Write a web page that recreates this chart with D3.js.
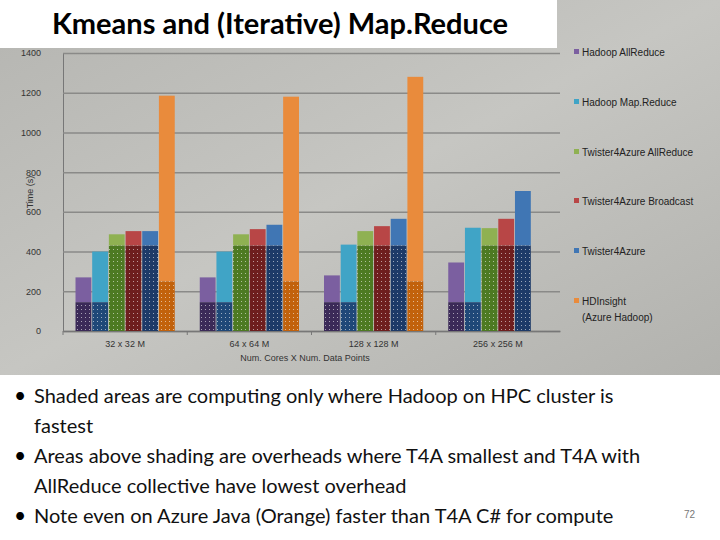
<!DOCTYPE html>
<html>
<head>
<meta charset="utf-8">
<script src="https://cdn.jsdelivr.net/npm/d3@7"></script>
<style>
body { margin: 0; }
svg { font-family: "Liberation Sans", "DejaVu Sans", sans-serif; }
</style>
</head>
<body>
<svg id="chart" width="720" height="540"></svg>
<script>
var categories = ["32 x 32 M", "64 x 64 M", "128 x 128 M", "256 x 256 M"];
var seriesNames = ["Hadoop AllReduce", "Hadoop Map.Reduce", "Twister4Azure AllReduce",
  "Twister4Azure Broadcast", "Twister4Azure", "HDInsight (Azure Hadoop)"];
// total time per series, per category (null = no bar)
var hadoopAllReduce = [270, 270, 280, 345];
var hadoopMapReduce = [400, 400, 435, 520];
var t4aAllReduce = [487, 487, 503, 518];
var t4aBroadcast = [503, 513, 528, 565];
var t4a = [503, 535, 565, 705];
var hdinsight = [1185, 1180, 1280, null];
// computing-only (shaded) part of each series
var computeTime = [145, 145, 430, 430, 430, 250];
var yTicks = [0, 200, 400, 600, 800, 1000, 1200, 1400];

var values = [hadoopAllReduce, hadoopMapReduce, t4aAllReduce, t4aBroadcast, t4a, hdinsight];
var topColors = ["#7b5fa0", "#40a4c6", "#8fb152", "#b84646", "#4076b4", "#e98b3c"];
var lowColors = ["#3b2a58", "#1f4878", "#4d7a22", "#6e1e1e", "#1d3a68", "#c2620c"];

var svg = d3.select("#chart");
var defs = svg.append("defs");
var bg = defs.append("linearGradient").attr("id", "bg").attr("x1", 0).attr("y1", 0).attr("x2", 1).attr("y2", 1);
bg.append("stop").attr("offset", 0).attr("stop-color", "#b5b5b1");
bg.append("stop").attr("offset", 0.5).attr("stop-color", "#c6c6c2");
bg.append("stop").attr("offset", 1).attr("stop-color", "#b2b2ae");
svg.append("rect").attr("width", 720).attr("height", 375).attr("fill", "url(#bg)");
svg.append("rect").attr("y", 375).attr("width", 720).attr("height", 165).attr("fill", "#fff");

lowColors.forEach(function(c, i) {
  var p = defs.append("pattern").attr("id", "dots" + i).attr("patternUnits", "userSpaceOnUse")
    .attr("width", 4).attr("height", 4);
  p.append("rect").attr("width", 4).attr("height", 4).attr("fill", c);
  p.append("rect").attr("x", 1).attr("y", 1).attr("width", 1).attr("height", 1).attr("fill", "#ffffff").attr("opacity", 0.55);
});

// title box
svg.append("rect").attr("x", 0).attr("y", 0).attr("width", 557).attr("height", 48).attr("fill", "#fff");
svg.append("text").attr("x", 280).attr("y", 34).attr("text-anchor", "middle")
  .attr("font-family", "Lato, 'Open Sans', sans-serif").attr("font-weight", "bold").attr("font-size", 29)
  .text("Kmeans and (Iterative) Map.Reduce");

var plotLeft = 63, plotRight = 560, plotTop = 53, plotBottom = 331;
var x = d3.scaleBand().domain(categories).range([plotLeft, plotRight]);
var y = d3.scaleLinear().domain([0, 1400]).range([plotBottom, plotTop]);
var xs = d3.scaleBand().domain(d3.range(6)).range([0, x.bandwidth()]).paddingOuter(0.75).paddingInner(0.05);

var g = svg.append("g");
g.append("g").attr("transform", "translate(" + plotLeft + ",0)")
  .call(d3.axisLeft(y).tickValues(yTicks).tickFormat(d3.format("d")).tickSize(-(plotRight - plotLeft)).tickPadding(22))
  .call(function(a) {
    a.select(".domain").attr("stroke", "#777");
    a.selectAll(".tick line").attr("stroke", "#8a8a88").attr("stroke-width", 1.5);
    a.selectAll(".tick text").attr("fill", "#333").attr("font-size", 9);
  });
g.append("g").attr("transform", "translate(0," + plotBottom + ")")
  .call(d3.axisBottom(x).tickSize(0).tickPadding(10))
  .call(function(a) {
    a.select(".domain").attr("stroke", "#777").attr("stroke-width", 1.5);
    a.selectAll(".tick text").attr("fill", "#333").attr("font-size", 9);
  });
categories.forEach(function(c) {
  g.append("line").attr("x1", x(c)).attr("x2", x(c)).attr("y1", plotBottom).attr("y2", plotBottom + 4).attr("stroke", "#777");
});
svg.append("text").attr("x", 305).attr("y", 361).attr("text-anchor", "middle").attr("font-size", 9).attr("fill", "#333")
  .text("Num. Cores X Num. Data Points");
svg.append("text").attr("transform", "translate(33,192) rotate(-90)").attr("text-anchor", "middle")
  .attr("font-size", 9).attr("fill", "#333").text("Time (s)");

values.forEach(function(vals, s) {
  vals.forEach(function(v, ci) {
    if (v == null) return;
    var bx = x(categories[ci]) + xs(s), w = xs.bandwidth();
    g.append("rect").attr("x", bx).attr("width", w).attr("y", y(v)).attr("height", y(computeTime[s]) - y(v))
      .attr("fill", topColors[s]);
    g.append("rect").attr("x", bx).attr("width", w).attr("y", y(computeTime[s])).attr("height", plotBottom - y(computeTime[s]))
      .attr("fill", "url(#dots" + s + ")");
  });
});

// legend
var legY = [53, 103, 153, 202, 252, 302];
seriesNames.forEach(function(n, i) {
  svg.append("rect").attr("x", 574).attr("y", legY[i] - 4).attr("width", 5).attr("height", 5).attr("fill", topColors[i]);
  var t = svg.append("text").attr("x", 582).attr("y", legY[i] + 3).attr("font-size", 10).attr("fill", "#222");
  if (i == 5) {
    t.append("tspan").text("HDInsight");
    t.append("tspan").attr("x", 582).attr("dy", 16).text("(Azure Hadoop)");
  } else t.text(n);
});

// bullets
var bullets = [
  ["Shaded areas are computing only where Hadoop on HPC cluster is", "fastest"],
  ["Areas above shading are overheads where T4A smallest and T4A with", "AllReduce collective have lowest overhead"],
  ["Note even on Azure Java (Orange) faster than T4A C# for compute"]
];
var by = 403;
bullets.forEach(function(b) {
  svg.append("text").attr("x", 14).attr("y", by).attr("font-size", 21).attr("font-family", "Lato, 'Open Sans', sans-serif").text("•");
  b.forEach(function(line) {
    svg.append("text").attr("x", 34).attr("y", by).attr("font-size", 20)
      .attr("font-family", "Lato, 'Open Sans', sans-serif").attr("fill", "#111").text(line);
    by += 30;
  });
});
svg.append("text").attr("x", 684).attr("y", 518).attr("font-size", 10).attr("fill", "#777").text("72");
</script>
</body>
</html>
